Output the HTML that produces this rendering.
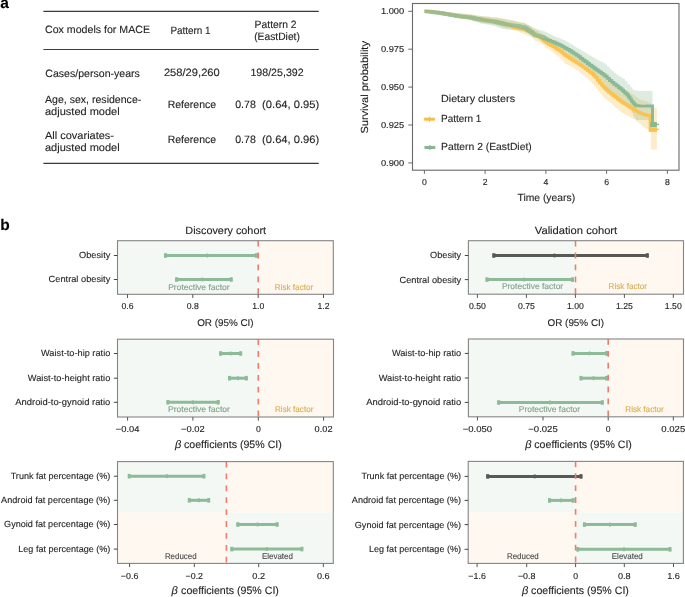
<!DOCTYPE html>
<html><head><meta charset="utf-8"><style>
html,body{margin:0;padding:0;background:#fff;}
svg{display:block;will-change:transform;}
text{font-family:"Liberation Sans", sans-serif;text-rendering:geometricPrecision;stroke:currentColor;stroke-width:0.12px;}
</style></head><body>
<svg width="685" height="597" viewBox="0 0 685 597">
<rect width="685" height="597" fill="#fff"/>
<text x="0.2" y="7.8" font-size="15.5" fill="#000" color="#000" text-anchor="start" font-weight="bold">a</text>
<text x="0.3" y="229.5" font-size="15.5" fill="#000" color="#000" text-anchor="start" font-weight="bold">b</text>
<line x1="43.4" y1="11.3" x2="318.8" y2="11.3" stroke="#3a3a3a" stroke-width="1.15"/>
<line x1="43.4" y1="49.5" x2="318.8" y2="49.5" stroke="#3a3a3a" stroke-width="1.15"/>
<line x1="43.4" y1="163.3" x2="318.8" y2="163.3" stroke="#3a3a3a" stroke-width="1.15"/>
<text x="45.0" y="33.0" font-size="10.6" fill="#262626" color="#262626" text-anchor="start" textLength="105.0" lengthAdjust="spacingAndGlyphs">Cox models for MACE</text>
<text x="170.4" y="33.6" font-size="10.6" fill="#262626" color="#262626" text-anchor="start" textLength="40.2" lengthAdjust="spacingAndGlyphs">Pattern 1</text>
<text x="254.6" y="27.7" font-size="10.6" fill="#262626" color="#262626" text-anchor="start" textLength="42.0" lengthAdjust="spacingAndGlyphs">Pattern 2</text>
<text x="254.2" y="39.7" font-size="10.6" fill="#262626" color="#262626" text-anchor="start" textLength="45.7" lengthAdjust="spacingAndGlyphs">(EastDiet)</text>
<text x="45.3" y="76.7" font-size="10.6" fill="#262626" color="#262626" text-anchor="start" textLength="94.6" lengthAdjust="spacingAndGlyphs">Cases/person-years</text>
<text x="163.9" y="76.4" font-size="10.6" fill="#262626" color="#262626" text-anchor="start" textLength="55.9" lengthAdjust="spacingAndGlyphs">258/29,260</text>
<text x="250.4" y="76.4" font-size="10.6" fill="#262626" color="#262626" text-anchor="start" textLength="53.3" lengthAdjust="spacingAndGlyphs">198/25,392</text>
<text x="45.0" y="102.9" font-size="10.6" fill="#262626" color="#262626" text-anchor="start" textLength="96.3" lengthAdjust="spacingAndGlyphs">Age, sex, residence-</text>
<text x="45.0" y="114.5" font-size="10.6" fill="#262626" color="#262626" text-anchor="start" textLength="74.7" lengthAdjust="spacingAndGlyphs">adjusted model</text>
<text x="45.0" y="139.3" font-size="10.6" fill="#262626" color="#262626" text-anchor="start" textLength="69.0" lengthAdjust="spacingAndGlyphs">All covariates-</text>
<text x="45.0" y="150.8" font-size="10.6" fill="#262626" color="#262626" text-anchor="start" textLength="74.7" lengthAdjust="spacingAndGlyphs">adjusted model</text>
<text x="167.7" y="107.9" font-size="10.6" fill="#262626" color="#262626" text-anchor="start" textLength="48.4" lengthAdjust="spacingAndGlyphs">Reference</text>
<text x="235.2" y="107.9" font-size="10.6" fill="#262626" color="#262626" text-anchor="start" textLength="20.6" lengthAdjust="spacingAndGlyphs">0.78</text>
<text x="167.7" y="143.0" font-size="10.6" fill="#262626" color="#262626" text-anchor="start" textLength="48.4" lengthAdjust="spacingAndGlyphs">Reference</text>
<text x="235.2" y="143.0" font-size="10.6" fill="#262626" color="#262626" text-anchor="start" textLength="20.6" lengthAdjust="spacingAndGlyphs">0.78</text>
<text x="262.1" y="107.9" font-size="10.6" fill="#262626" color="#262626" text-anchor="start" textLength="57.2" lengthAdjust="spacingAndGlyphs">(0.64, 0.95)</text>
<text x="262.1" y="143.0" font-size="10.6" fill="#262626" color="#262626" text-anchor="start" textLength="57.2" lengthAdjust="spacingAndGlyphs">(0.64, 0.96)</text>
<polygon points="424.5,10.1 426.4,10.1 426.4,10.1 426.4,10.3 428.4,10.3 428.4,10.3 428.4,10.5 430.3,10.5 430.3,10.5 430.3,10.7 432.2,10.7 432.2,10.7 432.2,10.8 434.2,10.8 434.2,10.8 434.2,11.0 436.1,11.0 436.1,11.0 436.1,11.2 438.1,11.2 438.1,11.2 438.1,11.4 440.0,11.4 440.0,11.4 440.0,11.6 442.0,11.6 442.0,11.6 442.0,11.8 444.0,11.8 444.0,11.8 444.0,12.0 446.0,12.0 446.0,12.0 446.0,12.2 448.0,12.2 448.0,12.2 448.0,12.4 450.0,12.4 450.0,12.4 450.0,12.6 452.0,12.6 452.0,12.6 452.0,12.8 454.0,12.8 454.0,12.8 454.0,12.9 456.0,12.9 456.0,12.9 456.0,13.1 458.0,13.1 458.0,13.1 458.0,13.3 460.0,13.3 460.0,13.3 460.0,13.5 462.0,13.5 462.0,13.5 462.0,13.7 464.0,13.7 464.0,13.7 464.0,13.9 466.0,13.9 466.0,13.9 466.0,14.1 468.0,14.1 468.0,14.1 468.0,14.3 470.0,14.3 470.0,14.3 470.0,14.5 471.9,14.5 471.9,14.5 471.9,14.8 473.9,14.8 473.9,14.8 473.9,15.1 475.9,15.1 475.9,15.1 475.9,15.4 477.8,15.4 477.8,15.4 477.8,15.7 479.8,15.7 479.8,15.7 479.8,16.0 481.7,16.0 481.7,16.0 481.7,16.2 483.6,16.2 483.6,16.2 483.6,16.4 485.6,16.4 485.6,16.4 485.6,16.6 487.5,16.6 487.5,16.6 487.5,16.8 489.5,16.8 489.5,16.8 489.5,17.0 491.4,17.0 491.4,17.0 491.4,17.2 493.4,17.2 493.4,17.2 493.4,17.4 495.6,17.4 495.6,17.4 495.6,17.6 497.8,17.6 497.8,17.6 497.8,17.9 500.0,17.9 500.0,17.9 500.0,18.3 502.5,18.3 502.5,18.3 502.5,18.8 505.0,18.8 505.0,18.8 505.0,19.3 507.2,19.3 507.2,19.3 507.2,19.8 509.5,19.8 509.5,19.8 509.5,20.2 511.7,20.2 511.7,20.2 511.7,20.6 513.9,20.6 513.9,20.6 513.9,21.0 516.2,21.0 516.2,21.0 516.2,21.5 518.4,21.5 518.4,21.5 518.4,21.9 520.6,21.9 520.6,21.9 520.6,22.4 522.8,22.4 522.8,22.4 522.8,22.8 525.0,22.8 525.0,22.8 525.0,23.7 527.3,23.7 527.3,23.7 527.3,25.0 529.5,25.0 529.5,25.0 529.5,26.3 531.8,26.3 531.8,26.3 531.8,27.6 533.4,27.6 533.4,27.6 533.4,28.6 535.0,28.6 535.0,28.6 535.0,29.8 537.2,29.8 537.2,29.8 537.2,31.1 539.5,31.1 539.5,31.1 539.5,32.4 541.7,32.4 541.7,32.4 541.7,33.6 543.4,33.6 543.4,33.6 543.4,34.9 545.0,34.9 545.0,34.9 545.0,35.9 546.7,35.9 546.7,35.9 546.7,36.6 548.4,36.6 548.4,36.6 548.4,37.5 550.6,37.5 550.6,37.5 550.6,38.5 552.9,38.5 552.9,38.5 552.9,39.5 555.1,39.5 555.1,39.5 555.1,40.6 557.3,40.6 557.3,40.6 557.3,41.8 559.6,41.8 559.6,41.8 559.6,42.9 561.8,42.9 561.8,42.9 561.8,44.0 563.4,44.0 563.4,44.0 563.4,45.0 565.0,45.0 565.0,45.0 565.0,46.2 567.2,46.2 567.2,46.2 567.2,47.5 569.5,47.5 569.5,47.5 569.5,48.8 571.7,48.8 571.7,48.8 571.7,50.2 573.9,50.2 573.9,50.2 573.9,51.8 576.2,51.8 576.2,51.8 576.2,53.2 578.4,53.2 578.4,53.2 578.4,54.8 580.6,54.8 580.6,54.8 580.6,56.5 582.8,56.5 582.8,56.5 582.8,58.2 585.0,58.2 585.0,58.2 585.0,59.8 587.3,59.8 587.3,59.8 587.3,61.5 589.5,61.5 589.5,61.5 589.5,63.2 591.8,63.2 591.8,63.2 591.8,64.8 593.9,64.8 593.9,64.8 593.9,66.2 595.9,66.2 595.9,66.2 595.9,67.8 598.0,67.8 598.0,67.8 598.0,69.1 599.8,69.1 599.8,69.1 599.8,70.3 601.5,70.3 601.5,70.3 601.5,71.5 603.2,71.5 603.2,71.5 603.2,72.7 605.0,72.7 605.0,72.7 605.0,74.3 607.2,74.3 607.2,74.3 607.2,76.4 609.5,76.4 609.5,76.4 609.5,78.5 611.7,78.5 611.7,78.5 611.7,80.4 613.9,80.4 613.9,80.4 613.9,82.2 616.2,82.2 616.2,82.2 616.2,83.9 618.4,83.9 618.4,83.9 618.4,85.6 620.6,85.6 620.6,85.6 620.6,87.3 622.8,87.3 622.8,87.3 622.8,89.0 625.0,89.0 625.0,89.0 625.0,90.4 627.1,90.4 627.1,90.4 627.1,91.6 629.2,91.6 629.2,91.6 629.2,92.7 631.3,92.7 631.3,92.7 631.3,93.9 633.4,93.9 633.4,93.9 633.4,95.3 635.6,95.3 635.6,95.3 635.6,97.0 637.9,97.0 637.9,97.0 637.9,98.7 640.1,98.7 640.1,98.7 640.1,99.8 642.1,99.8 642.1,99.8 642.1,100.2 644.1,100.2 644.1,100.2 644.1,100.8 646.1,100.8 646.1,100.8 646.1,101.2 648.1,101.2 648.1,101.2 648.1,102.8 650.8,102.8 650.8,102.8 650.8,107.7 650.8,107.7 650.8,107.7 652.8,107.7 652.8,107.7 652.8,107.7 654.9,107.7 654.9,107.7 654.9,107.7 656.9,107.7 656.9,149.6 654.9,149.6 654.9,149.6 654.9,149.6 652.8,149.6 652.8,149.6 652.8,149.6 650.8,149.6 650.8,149.6 650.8,149.6 650.8,128.9 650.8,128.9 648.5,128.9 648.5,128.9 648.5,128.9 646.3,128.9 646.3,128.1 646.3,128.1 644.4,128.1 644.4,126.7 644.4,126.7 642.5,126.7 642.5,125.2 642.5,125.2 640.6,125.2 640.6,123.6 640.6,123.6 638.8,123.6 638.8,122.1 638.8,122.1 636.9,122.1 636.9,120.7 636.9,120.7 635.0,120.7 635.0,119.3 635.0,119.3 632.5,119.3 632.5,117.8 632.5,117.8 630.0,117.8 630.0,116.4 630.0,116.4 627.5,116.4 627.5,114.9 627.5,114.9 625.0,114.9 625.0,113.8 625.0,113.8 623.4,113.8 623.4,112.9 623.4,112.9 621.8,112.9 621.8,111.6 621.8,111.6 619.6,111.6 619.6,109.8 619.6,109.8 617.3,109.8 617.3,108.0 617.3,108.0 615.1,108.0 615.1,106.2 615.1,106.2 613.4,106.2 613.4,104.4 613.4,104.4 611.7,104.4 611.7,102.7 611.7,102.7 609.5,102.7 609.5,101.0 609.5,101.0 607.2,101.0 607.2,99.3 607.2,99.3 605.0,99.3 605.0,97.4 605.0,97.4 603.2,97.4 603.2,95.3 603.2,95.3 601.5,95.3 601.5,93.2 601.5,93.2 599.8,93.2 599.8,91.1 599.8,91.1 598.0,91.1 598.0,88.8 598.0,88.8 595.9,88.8 595.9,86.2 595.9,86.2 593.9,86.2 593.9,83.8 593.9,83.8 591.8,83.8 591.8,81.5 591.8,81.5 589.5,81.5 589.5,79.5 589.5,79.5 587.3,79.5 587.3,77.5 587.3,77.5 585.0,77.5 585.0,75.6 585.0,75.6 582.8,75.6 582.8,73.8 582.8,73.8 580.6,73.8 580.6,71.9 580.6,71.9 578.4,71.9 578.4,70.2 578.4,70.2 576.2,70.2 576.2,68.8 576.2,68.8 573.9,68.8 573.9,67.2 573.9,67.2 571.7,67.2 571.7,66.0 571.7,66.0 569.5,66.0 569.5,65.0 569.5,65.0 567.2,65.0 567.2,64.1 567.2,64.1 565.0,64.1 565.0,62.6 565.0,62.6 563.4,62.6 563.4,60.5 563.4,60.5 561.8,60.5 561.8,58.6 561.8,58.6 559.6,58.6 559.6,56.8 559.6,56.8 557.3,56.8 557.3,54.9 557.3,54.9 555.1,54.9 555.1,53.2 555.1,53.2 552.9,53.2 552.9,51.5 552.9,51.5 550.6,51.5 550.6,49.8 550.6,49.8 548.4,49.8 548.4,48.5 548.4,48.5 546.7,48.5 546.7,47.5 546.7,47.5 545.0,47.5 545.0,46.1 545.0,46.1 543.4,46.1 543.4,44.4 543.4,44.4 541.7,44.4 541.7,43.0 541.7,43.0 539.5,43.0 539.5,42.1 539.5,42.1 537.2,42.1 537.2,41.2 537.2,41.2 535.0,41.2 535.0,40.0 535.0,40.0 533.4,40.0 533.4,38.3 533.4,38.3 531.8,38.3 531.8,37.0 531.8,37.0 529.5,37.0 529.5,36.0 529.5,36.0 527.3,36.0 527.3,35.1 527.3,35.1 525.0,35.1 525.0,34.1 525.0,34.1 522.8,34.1 522.8,33.0 522.8,33.0 520.6,33.0 520.6,31.9 520.6,31.9 518.4,31.9 518.4,31.1 518.4,31.1 516.2,31.1 516.2,30.4 516.2,30.4 513.9,30.4 513.9,29.7 513.9,29.7 511.7,29.7 511.7,29.2 511.7,29.2 509.5,29.2 509.5,28.8 509.5,28.8 507.2,28.8 507.2,28.3 507.2,28.3 505.0,28.3 505.0,27.8 505.0,27.8 502.5,27.8 502.5,27.3 502.5,27.3 500.0,27.3 500.0,26.6 500.0,26.6 497.8,26.6 497.8,25.8 497.8,25.8 495.6,25.8 495.6,25.0 495.6,25.0 493.4,25.0 493.4,24.5 493.4,24.5 491.4,24.5 491.4,24.2 491.4,24.2 489.5,24.2 489.5,23.9 489.5,23.9 487.5,23.9 487.5,23.6 487.5,23.6 485.6,23.6 485.6,23.3 485.6,23.3 483.6,23.3 483.6,23.0 483.6,23.0 481.7,23.0 481.7,22.6 481.7,22.6 479.8,22.6 479.8,22.1 479.8,22.1 477.8,22.1 477.8,21.6 477.8,21.6 475.9,21.6 475.9,21.1 475.9,21.1 473.9,21.1 473.9,20.6 473.9,20.6 471.9,20.6 471.9,20.1 471.9,20.1 470.0,20.1 470.0,19.7 470.0,19.7 468.0,19.7 468.0,19.4 468.0,19.4 466.0,19.4 466.0,19.0 466.0,19.0 464.0,19.0 464.0,18.7 464.0,18.7 462.0,18.7 462.0,18.4 462.0,18.4 460.0,18.4 460.0,18.0 460.0,18.0 458.0,18.0 458.0,17.7 458.0,17.7 456.0,17.7 456.0,17.4 456.0,17.4 454.0,17.4 454.0,17.0 454.0,17.0 452.0,17.0 452.0,16.7 452.0,16.7 450.0,16.7 450.0,16.3 450.0,16.3 448.0,16.3 448.0,16.0 448.0,16.0 446.0,16.0 446.0,15.7 446.0,15.7 444.0,15.7 444.0,15.3 444.0,15.3 442.0,15.3 442.0,15.0 442.0,15.0 440.0,15.0 440.0,14.7 440.0,14.7 438.1,14.7 438.1,14.4 438.1,14.4 436.1,14.4 436.1,14.1 436.1,14.1 434.2,14.1 434.2,13.8 434.2,13.8 432.2,13.8 432.2,13.5 432.2,13.5 430.3,13.5 430.3,13.2 430.3,13.2 428.4,13.2 428.4,12.9 428.4,12.9 426.4,12.9 426.4,12.6 426.4,12.6 424.5,12.6" fill="#f9c45a" fill-opacity="0.32"/>
<polygon points="424.5,10.1 426.4,10.1 426.4,10.1 426.4,10.3 428.4,10.3 428.4,10.3 428.4,10.5 430.3,10.5 430.3,10.5 430.3,10.7 432.2,10.7 432.2,10.7 432.2,10.8 434.2,10.8 434.2,10.8 434.2,11.0 436.1,11.0 436.1,11.0 436.1,11.2 438.1,11.2 438.1,11.2 438.1,11.4 440.0,11.4 440.0,11.4 440.0,11.6 442.0,11.6 442.0,11.6 442.0,11.8 444.0,11.8 444.0,11.8 444.0,12.0 446.0,12.0 446.0,12.0 446.0,12.2 448.0,12.2 448.0,12.2 448.0,12.4 450.0,12.4 450.0,12.4 450.0,12.6 452.0,12.6 452.0,12.6 452.0,12.8 454.0,12.8 454.0,12.8 454.0,12.9 456.0,12.9 456.0,12.9 456.0,13.1 458.0,13.1 458.0,13.1 458.0,13.3 460.0,13.3 460.0,13.3 460.0,13.5 462.0,13.5 462.0,13.5 462.0,13.7 464.0,13.7 464.0,13.7 464.0,13.9 466.0,13.9 466.0,13.9 466.0,14.1 468.0,14.1 468.0,14.1 468.0,14.3 470.0,14.3 470.0,14.3 470.0,14.5 471.9,14.5 471.9,14.5 471.9,14.8 473.9,14.8 473.9,14.8 473.9,15.1 475.9,15.1 475.9,15.1 475.9,15.4 477.8,15.4 477.8,15.4 477.8,15.7 479.8,15.7 479.8,15.7 479.8,16.0 481.7,16.0 481.7,16.0 481.7,16.2 483.6,16.2 483.6,16.2 483.6,16.4 485.6,16.4 485.6,16.4 485.6,16.6 487.5,16.6 487.5,16.6 487.5,16.8 489.5,16.8 489.5,16.8 489.5,17.0 491.4,17.0 491.4,17.0 491.4,17.2 493.4,17.2 493.4,17.2 493.4,17.4 495.6,17.4 495.6,17.4 495.6,17.6 497.8,17.6 497.8,17.6 497.8,17.9 500.0,17.9 500.0,17.9 500.0,18.3 502.5,18.3 502.5,18.3 502.5,18.8 505.0,18.8 505.0,18.8 505.0,19.3 507.2,19.3 507.2,19.3 507.2,19.8 509.5,19.8 509.5,19.8 509.5,20.2 511.7,20.2 511.7,20.2 511.7,20.6 513.9,20.6 513.9,20.6 513.9,21.0 516.2,21.0 516.2,21.0 516.2,21.5 518.4,21.5 518.4,21.5 518.4,21.9 520.6,21.9 520.6,21.9 520.6,22.4 522.8,22.4 522.8,22.4 522.8,22.8 525.0,22.8 525.0,22.8 525.0,23.7 527.3,23.7 527.3,23.7 527.3,25.0 529.5,25.0 529.5,25.0 529.5,26.3 531.8,26.3 531.8,26.3 531.8,27.4 533.4,27.4 533.4,27.4 533.4,28.1 535.0,28.1 535.0,28.1 535.0,28.8 537.2,28.8 537.2,28.8 537.2,29.5 539.5,29.5 539.5,29.5 539.5,30.2 541.7,30.2 541.7,30.2 541.7,30.8 543.4,30.8 543.4,30.8 543.4,31.2 545.0,31.2 545.0,31.2 545.0,31.9 546.7,31.9 546.7,31.9 546.7,32.8 548.4,32.8 548.4,32.8 548.4,33.7 550.6,33.7 550.6,33.7 550.6,34.8 552.9,34.8 552.9,34.8 552.9,35.9 555.1,35.9 555.1,35.9 555.1,36.9 557.3,36.9 557.3,36.9 557.3,37.8 559.6,37.8 559.6,37.8 559.6,38.7 561.8,38.7 561.8,38.7 561.8,39.5 563.4,39.5 563.4,39.5 563.4,40.0 565.0,40.0 565.0,40.0 565.0,40.9 567.2,40.9 567.2,40.9 567.2,42.3 569.5,42.3 569.5,42.3 569.5,43.7 571.7,43.7 571.7,43.7 571.7,45.1 573.9,45.1 573.9,45.1 573.9,46.5 576.2,46.5 576.2,46.5 576.2,47.8 578.4,47.8 578.4,47.8 578.4,49.1 580.6,49.1 580.6,49.1 580.6,50.5 582.8,50.5 582.8,50.5 582.8,51.8 585.0,51.8 585.0,51.8 585.0,53.1 587.3,53.1 587.3,53.1 587.3,54.5 589.5,54.5 589.5,54.5 589.5,55.8 591.8,55.8 591.8,55.8 591.8,57.1 593.9,57.1 593.9,57.1 593.9,58.2 595.9,58.2 595.9,58.2 595.9,59.4 598.0,59.4 598.0,59.4 598.0,60.4 599.8,60.4 599.8,60.4 599.8,61.3 601.5,61.3 601.5,61.3 601.5,62.1 603.2,62.1 603.2,62.1 603.2,63.0 605.0,63.0 605.0,63.0 605.0,64.5 607.2,64.5 607.2,64.5 607.2,66.7 609.5,66.7 609.5,66.7 609.5,68.9 611.7,68.9 611.7,68.9 611.7,70.9 613.9,70.9 613.9,70.9 613.9,72.8 616.2,72.8 616.2,72.8 616.2,74.6 618.4,74.6 618.4,74.6 618.4,76.2 620.6,76.2 620.6,76.2 620.6,77.5 622.8,77.5 622.8,77.5 622.8,78.8 625.0,78.8 625.0,78.8 625.0,81.1 627.5,81.1 627.5,81.1 627.5,84.2 630.0,84.2 630.0,84.2 630.0,86.8 631.7,86.8 631.7,86.8 631.7,88.8 633.4,88.8 633.4,88.8 633.4,90.3 636.1,90.3 636.1,90.3 636.1,90.8 638.1,90.8 638.1,90.8 638.1,90.9 640.2,90.9 640.2,90.9 640.2,90.9 642.2,90.9 642.2,90.9 642.2,90.9 644.3,90.9 644.3,90.9 644.3,91.0 646.4,91.0 646.4,91.0 646.4,91.0 648.4,91.0 648.4,91.0 648.4,91.0 650.5,91.0 650.5,91.0 650.5,91.1 652.5,91.1 652.5,120.0 650.4,120.0 650.4,120.0 650.4,120.0 648.4,120.0 648.4,120.0 648.4,120.0 646.3,120.0 646.3,120.0 646.3,120.0 644.2,120.0 644.2,120.0 644.2,120.0 642.2,120.0 642.2,120.0 642.2,120.0 640.1,120.0 640.1,120.0 640.1,120.0 638.1,120.0 638.1,120.0 638.1,120.0 636.0,120.0 636.0,118.8 636.0,118.8 634.5,118.8 634.5,116.2 634.5,116.2 633.0,116.2 633.0,113.1 633.0,113.1 631.5,113.1 631.5,109.4 631.5,109.4 630.0,109.4 630.0,106.9 630.0,106.9 627.5,106.9 627.5,105.6 627.5,105.6 625.0,105.6 625.0,104.5 625.0,104.5 623.4,104.5 623.4,103.5 623.4,103.5 621.8,103.5 621.8,102.2 621.8,102.2 619.6,102.2 619.6,100.5 619.6,100.5 617.3,100.5 617.3,98.8 617.3,98.8 615.1,98.8 615.1,97.0 615.1,97.0 612.9,97.0 612.9,95.2 612.9,95.2 610.6,95.2 610.6,93.5 610.6,93.5 608.4,93.5 608.4,91.8 608.4,91.8 606.7,91.8 606.7,90.3 606.7,90.3 605.0,90.3 605.0,88.6 605.0,88.6 603.4,88.6 603.4,86.9 603.4,86.9 601.7,86.9 601.7,84.6 601.7,84.6 599.5,84.6 599.5,81.8 599.5,81.8 597.2,81.8 597.2,78.9 597.2,78.9 595.0,78.9 595.0,76.8 595.0,76.8 593.4,76.8 593.4,75.2 593.4,75.2 591.8,75.2 591.8,73.6 591.8,73.6 589.5,73.6 589.5,71.9 589.5,71.9 587.3,71.9 587.3,70.2 587.3,70.2 585.0,70.2 585.0,68.6 585.0,68.6 582.8,68.6 582.8,67.1 582.8,67.1 580.6,67.1 580.6,65.6 580.6,65.6 578.4,65.6 578.4,64.2 578.4,64.2 576.2,64.2 576.2,62.7 576.2,62.7 573.9,62.7 573.9,61.2 573.9,61.2 571.7,61.2 571.7,59.8 571.7,59.8 569.5,59.8 569.5,58.5 569.5,58.5 567.2,58.5 567.2,57.1 567.2,57.1 565.0,57.1 565.0,55.6 565.0,55.6 563.4,55.6 563.4,54.1 563.4,54.1 561.8,54.1 561.8,52.6 561.8,52.6 559.6,52.6 559.6,51.1 559.6,51.1 557.3,51.1 557.3,49.7 557.3,49.7 555.1,49.7 555.1,48.3 555.1,48.3 552.9,48.3 552.9,47.0 552.9,47.0 550.6,47.0 550.6,45.7 550.6,45.7 548.4,45.7 548.4,44.5 548.4,44.5 546.7,44.5 546.7,43.5 546.7,43.5 545.0,43.5 545.0,42.2 545.0,42.2 543.4,42.2 543.4,40.8 543.4,40.8 541.7,40.8 541.7,39.3 541.7,39.3 539.5,39.3 539.5,38.0 539.5,38.0 537.2,38.0 537.2,36.7 537.2,36.7 535.0,36.7 535.0,35.5 535.0,35.5 533.4,35.5 533.4,34.7 533.4,34.7 531.8,34.7 531.8,33.8 531.8,33.8 529.5,33.8 529.5,33.1 529.5,33.1 527.3,33.1 527.3,32.4 527.3,32.4 525.0,32.4 525.0,31.8 525.0,31.8 522.8,31.8 522.8,31.2 522.8,31.2 520.6,31.2 520.6,30.8 520.6,30.8 518.4,30.8 518.4,30.4 518.4,30.4 516.2,30.4 516.2,30.1 516.2,30.1 513.9,30.1 513.9,29.9 513.9,29.9 511.7,29.9 511.7,29.7 511.7,29.7 509.5,29.7 509.5,29.6 509.5,29.6 507.2,29.6 507.2,29.4 507.2,29.4 505.0,29.4 505.0,28.9 505.0,28.9 502.5,28.9 502.5,28.2 502.5,28.2 500.0,28.2 500.0,27.4 500.0,27.4 497.8,27.4 497.8,26.6 497.8,26.6 495.6,26.6 495.6,25.9 495.6,25.9 493.4,25.9 493.4,25.4 493.4,25.4 491.4,25.4 491.4,25.1 491.4,25.1 489.5,25.1 489.5,24.8 489.5,24.8 487.5,24.8 487.5,24.4 487.5,24.4 485.6,24.4 485.6,24.1 485.6,24.1 483.6,24.1 483.6,23.8 483.6,23.8 481.7,23.8 481.7,23.4 481.7,23.4 479.8,23.4 479.8,22.8 479.8,22.8 477.8,22.8 477.8,22.2 477.8,22.2 475.9,22.2 475.9,21.7 475.9,21.7 473.9,21.7 473.9,21.1 473.9,21.1 471.9,21.1 471.9,20.5 471.9,20.5 470.0,20.5 470.0,20.0 470.0,20.0 468.0,20.0 468.0,19.6 468.0,19.6 466.0,19.6 466.0,19.2 466.0,19.2 464.0,19.2 464.0,18.8 464.0,18.8 462.0,18.8 462.0,18.4 462.0,18.4 460.0,18.4 460.0,18.0 460.0,18.0 458.0,18.0 458.0,17.6 458.0,17.6 456.0,17.6 456.0,17.2 456.0,17.2 454.0,17.2 454.0,16.9 454.0,16.9 452.0,16.9 452.0,16.5 452.0,16.5 450.0,16.5 450.0,16.1 450.0,16.1 448.0,16.1 448.0,15.7 448.0,15.7 446.0,15.7 446.0,15.3 446.0,15.3 444.0,15.3 444.0,14.9 444.0,14.9 442.0,14.9 442.0,14.5 442.0,14.5 440.0,14.5 440.0,14.2 440.0,14.2 438.1,14.2 438.1,13.9 438.1,13.9 436.1,13.9 436.1,13.7 436.1,13.7 434.2,13.7 434.2,13.5 434.2,13.5 432.2,13.5 432.2,13.2 432.2,13.2 430.3,13.2 430.3,13.0 430.3,13.0 428.4,13.0 428.4,12.8 428.4,12.8 426.4,12.8 426.4,12.5 426.4,12.5 424.5,12.5" fill="#86b892" fill-opacity="0.28"/>
<polyline points="424.5,11.3 426.4,11.3 426.4,11.3 426.4,11.5 428.4,11.5 428.4,11.5 428.4,11.6 430.3,11.6 430.3,11.6 430.3,11.8 432.2,11.8 432.2,11.8 432.2,12.0 434.2,12.0 434.2,12.0 434.2,12.2 436.1,12.2 436.1,12.2 436.1,12.3 438.1,12.3 438.1,12.3 438.1,12.5 440.0,12.5 440.0,12.5 440.0,12.8 442.0,12.8 442.0,12.8 442.0,13.1 444.0,13.1 444.0,13.1 444.0,13.5 446.0,13.5 446.0,13.5 446.0,13.9 448.0,13.9 448.0,13.9 448.0,14.2 450.0,14.2 450.0,14.2 450.0,14.6 452.0,14.6 452.0,14.6 452.0,14.9 454.0,14.9 454.0,14.9 454.0,15.3 456.0,15.3 456.0,15.3 456.0,15.7 458.0,15.7 458.0,15.7 458.0,16.0 460.0,16.0 460.0,16.0 460.0,16.4 462.0,16.4 462.0,16.4 462.0,16.7 464.0,16.7 464.0,16.7 464.0,17.0 466.0,17.0 466.0,17.0 466.0,17.3 468.0,17.3 468.0,17.3 468.0,17.6 470.0,17.6 470.0,17.6 470.0,17.9 471.9,17.9 471.9,17.9 471.9,18.1 473.9,18.1 473.9,18.1 473.9,18.4 475.9,18.4 475.9,18.4 475.9,18.6 477.8,18.6 477.8,18.6 477.8,18.9 479.8,18.9 479.8,18.9 479.8,19.1 481.7,19.1 481.7,19.1 481.7,19.3 483.6,19.3 483.6,19.3 483.6,19.6 485.6,19.6 485.6,19.6 485.6,19.9 487.5,19.9 487.5,19.9 487.5,20.2 489.5,20.2 489.5,20.2 489.5,20.6 491.4,20.6 491.4,20.6 491.4,20.9 493.4,20.9 493.4,20.9 493.4,21.2 495.3,21.2 495.3,21.2 495.3,21.6 497.3,21.6 497.3,21.6 497.3,22.0 499.2,22.0 499.2,22.0 499.2,22.5 501.1,22.5 501.1,22.5 501.1,22.9 503.1,22.9 503.1,22.9 503.1,23.3 505.0,23.3 505.0,23.3 505.0,23.9 507.0,23.9 507.0,23.9 507.0,24.7 509.0,24.7 509.0,24.7 509.0,25.5 511.0,25.5 511.0,25.5 511.0,26.3 513.0,26.3 513.0,26.3 513.0,27.1 515.0,27.1 515.0,27.1 515.0,27.7 517.0,27.7 517.0,27.7 517.0,28.1 519.0,28.1 519.0,28.1 519.0,28.5 521.0,28.5 521.0,28.5 521.0,28.9 523.0,28.9 523.0,28.9 523.0,29.3 525.0,29.3 525.0,29.3 525.0,29.9 527.3,29.9 527.3,29.9 527.3,30.8 529.5,30.8 529.5,30.8 529.5,31.6 531.8,31.6 531.8,31.6 531.8,32.5 533.4,32.5 533.4,32.5 533.4,33.5 535.0,33.5 535.0,33.5 535.0,34.8 537.2,34.8 537.2,34.8 537.2,36.2 539.5,36.2 539.5,36.2 539.5,37.8 541.7,37.8 541.7,37.8 541.7,39.3 543.4,39.3 543.4,39.3 543.4,40.8 545.0,40.8 545.0,40.8 545.0,42.1 546.7,42.1 546.7,42.1 546.7,43.0 548.4,43.0 548.4,43.0 548.4,44.2 550.6,44.2 550.6,44.2 550.6,45.5 552.9,45.5 552.9,45.5 552.9,46.8 555.1,46.8 555.1,46.8 555.1,48.2 557.3,48.2 557.3,48.2 557.3,49.6 559.6,49.6 559.6,49.6 559.6,51.1 561.8,51.1 561.8,51.1 561.8,52.6 563.4,52.6 563.4,52.6 563.4,54.1 565.0,54.1 565.0,54.1 565.0,55.6 567.2,55.6 567.2,55.6 567.2,57.0 569.5,57.0 569.5,57.0 569.5,58.3 571.7,58.3 571.7,58.3 571.7,59.7 573.9,59.7 573.9,59.7 573.9,61.2 576.2,61.2 576.2,61.2 576.2,62.7 578.4,62.7 578.4,62.7 578.4,64.1 580.6,64.1 580.6,64.1 580.6,65.6 582.8,65.6 582.8,65.6 582.8,67.1 585.0,67.1 585.0,67.1 585.0,68.7 587.3,68.7 587.3,68.7 587.3,70.4 589.5,70.4 589.5,70.4 589.5,72.1 591.8,72.1 591.8,72.1 591.8,73.8 593.4,73.8 593.4,73.8 593.4,75.2 595.0,75.2 595.0,75.2 595.0,77.4 597.2,77.4 597.2,77.4 597.2,80.2 599.5,80.2 599.5,80.2 599.5,83.1 601.7,83.1 601.7,83.1 601.7,85.4 603.4,85.4 603.4,85.4 603.4,87.1 605.0,87.1 605.0,87.1 605.0,88.8 606.7,88.8 606.7,88.8 606.7,90.3 608.4,90.3 608.4,90.3 608.4,92.0 610.6,92.0 610.6,92.0 610.6,93.8 612.9,93.8 612.9,93.8 612.9,95.5 615.1,95.5 615.1,95.5 615.1,97.3 617.3,97.3 617.3,97.3 617.3,99.1 619.6,99.1 619.6,99.1 619.6,100.9 621.8,100.9 621.8,100.9 621.8,102.3 623.4,102.3 623.4,102.3 623.4,103.2 625.0,103.2 625.0,103.2 625.0,104.4 627.1,104.4 627.1,104.4 627.1,105.7 629.2,105.7 629.2,105.7 629.2,107.1 631.3,107.1 631.3,107.1 631.3,108.4 633.4,108.4 633.4,108.4 633.4,109.8 635.6,109.8 635.6,109.8 635.6,111.1 637.9,111.1 637.9,111.1 637.9,112.4 640.1,112.4 640.1,112.4 640.1,113.4 642.3,113.4 642.3,113.4 642.3,114.1 644.6,114.1 644.6,114.1 644.6,114.8 646.8,114.8 646.8,114.8 646.8,115.3 648.5,115.3 648.5,115.3 648.5,115.6 650.1,115.6 650.1,115.6 650.1,129.6 650.1,129.6 650.1,129.6 652.0,129.6" fill="none" stroke="#fac350" stroke-width="2.9" stroke-linejoin="miter"/>
<polyline points="424.5,11.3 426.4,11.3 426.4,11.3 426.4,11.5 428.4,11.5 428.4,11.5 428.4,11.7 430.3,11.7 430.3,11.7 430.3,11.9 432.2,11.9 432.2,11.9 432.2,12.2 434.2,12.2 434.2,12.2 434.2,12.4 436.1,12.4 436.1,12.4 436.1,12.6 438.1,12.6 438.1,12.6 438.1,12.8 440.0,12.8 440.0,12.8 440.0,13.1 441.9,13.1 441.9,13.1 441.9,13.4 443.9,13.4 443.9,13.4 443.9,13.8 445.8,13.8 445.8,13.8 445.8,14.1 447.8,14.1 447.8,14.1 447.8,14.4 449.7,14.4 449.7,14.4 449.7,14.8 451.6,14.8 451.6,14.8 451.6,15.1 453.6,15.1 453.6,15.1 453.6,15.5 455.5,15.5 455.5,15.5 455.5,15.8 457.5,15.8 457.5,15.8 457.5,16.1 459.4,16.1 459.4,16.1 459.4,16.4 461.5,16.4 461.5,16.4 461.5,16.6 463.6,16.6 463.6,16.6 463.6,16.8 465.8,16.8 465.8,16.8 465.8,17.0 467.9,17.0 467.9,17.0 467.9,17.2 470.0,17.2 470.0,17.2 470.0,17.5 471.9,17.5 471.9,17.5 471.9,17.9 473.9,17.9 473.9,17.9 473.9,18.4 475.9,18.4 475.9,18.4 475.9,18.8 477.8,18.8 477.8,18.8 477.8,19.2 479.8,19.2 479.8,19.2 479.8,19.7 481.7,19.7 481.7,19.7 481.7,20.0 483.6,20.0 483.6,20.0 483.6,20.3 485.6,20.3 485.6,20.3 485.6,20.5 487.5,20.5 487.5,20.5 487.5,20.8 489.5,20.8 489.5,20.8 489.5,21.0 491.4,21.0 491.4,21.0 491.4,21.3 493.4,21.3 493.4,21.3 493.4,21.6 495.6,21.6 495.6,21.6 495.6,22.1 497.8,22.1 497.8,22.1 497.8,22.6 500.0,22.6 500.0,22.6 500.0,23.2 502.5,23.2 502.5,23.2 502.5,23.9 505.0,23.9 505.0,23.9 505.0,24.4 507.2,24.4 507.2,24.4 507.2,24.6 509.5,24.6 509.5,24.6 509.5,25.0 511.7,25.0 511.7,25.0 511.7,25.3 513.9,25.3 513.9,25.3 513.9,25.6 516.2,25.6 516.2,25.6 516.2,25.9 518.4,25.9 518.4,25.9 518.4,26.3 520.6,26.3 520.6,26.3 520.6,26.8 522.8,26.8 522.8,26.8 522.8,27.3 525.0,27.3 525.0,27.3 525.0,28.1 526.7,28.1 526.7,28.1 526.7,29.4 528.4,29.4 528.4,29.4 528.4,30.6 530.1,30.6 530.1,30.6 530.1,31.9 531.8,31.9 531.8,31.9 531.8,33.1 533.4,33.1 533.4,33.1 533.4,34.4 535.0,34.4 535.0,34.4 535.0,35.3 537.2,35.3 537.2,35.3 537.2,35.9 539.5,35.9 539.5,35.9 539.5,36.5 541.7,36.5 541.7,36.5 541.7,37.2 543.4,37.2 543.4,37.2 543.4,38.1 545.0,38.1 545.0,38.1 545.0,39.0" fill="none" stroke="#8ab996" stroke-width="3.7" stroke-linejoin="miter" stroke-opacity="0.8"/>
<polyline points="545.0,38.1 545.0,38.1 545.0,39.0 546.7,39.0 546.7,39.0 546.7,39.6 548.4,39.6 548.4,39.6 548.4,40.5 550.6,40.5 550.6,40.5 550.6,41.4 552.9,41.4 552.9,41.4 552.9,42.3 555.1,42.3 555.1,42.3 555.1,43.3 557.3,43.3 557.3,43.3 557.3,44.3 559.6,44.3 559.6,44.3 559.6,45.3 561.8,45.3 561.8,45.3 561.8,46.2 563.4,46.2 563.4,46.2 563.4,47.1 565.0,47.1 565.0,47.1 565.0,48.2 567.2,48.2 567.2,48.2 567.2,49.5 569.5,49.5 569.5,49.5 569.5,50.8 571.7,50.8 571.7,50.8 571.7,52.2 573.9,52.2 573.9,52.2 573.9,53.8 576.2,53.8 576.2,53.8 576.2,55.2 578.4,55.2 578.4,55.2 578.4,56.8 580.6,56.8 580.6,56.8 580.6,58.5 582.8,58.5 582.8,58.5 582.8,60.2 585.0,60.2 585.0,60.2 585.0,61.8 587.3,61.8 587.3,61.8 587.3,63.5 589.5,63.5 589.5,63.5 589.5,65.2 591.8,65.2 591.8,65.2 591.8,66.8 593.9,66.8 593.9,66.8 593.9,68.2 595.9,68.2 595.9,68.2 595.9,69.8 598.0,69.8 598.0,69.8 598.0,71.1 599.8,71.1 599.8,71.1 599.8,72.3 601.5,72.3 601.5,72.3 601.5,73.5 603.2,73.5 603.2,73.5 603.2,74.7 605.0,74.7 605.0,74.7 605.0,76.3 607.2,76.3 607.2,76.3 607.2,78.4 609.5,78.4 609.5,78.4 609.5,80.5 611.7,80.5 611.7,80.5 611.7,82.4 613.9,82.4 613.9,82.4 613.9,84.2 616.2,84.2 616.2,84.2 616.2,85.9 618.4,85.9 618.4,85.9 618.4,87.5 620.2,87.5 620.2,87.5 620.2,88.8 622.0,88.8 622.0,88.8 622.0,90.2 623.5,90.2 623.5,90.2 623.5,91.6 625.0,91.6 625.0,91.6 625.0,93.2 627.0,93.2 627.0,93.2 627.0,95.0 628.5,95.0 628.5,95.0 628.5,97.0 630.0,97.0 630.0,97.0 630.0,99.1 631.5,99.1 631.5,99.1 631.5,101.4 633.0,101.4 633.0,101.4 633.0,103.2 634.5,103.2 634.5,103.2 634.5,104.8 636.0,104.8 636.0,104.8 636.0,105.7 638.5,105.7 638.5,105.7 638.5,105.9 641.0,105.9 641.0,105.9 641.0,106.1 642.9,106.1 642.9,106.1 642.9,106.1 644.8,106.1 644.8,106.1 644.8,106.1 646.8,106.1 646.8,106.1 646.8,106.0 648.7,106.0 648.7,106.0 648.7,106.0 650.6,106.0 650.6,106.0 650.6,106.0 652.5,106.0 652.5,106.0 652.5,123.5 652.5,123.5 652.5,123.5 653.0,123.5" fill="none" stroke="#8ab996" stroke-width="2.9" stroke-linejoin="miter"/>
<rect x="648.9" y="127.3" width="8.3" height="4.6" fill="#fac350"/>
<line x1="648.9" y1="129.3" x2="659.1" y2="129.3" stroke="#fac350" stroke-width="1.3"/>
<rect x="650.4" y="122.0" width="6.5" height="5.0" fill="#86b894"/>
<line x1="650.4" y1="124.4" x2="659.1" y2="124.4" stroke="#86b894" stroke-width="1.3"/>
<rect x="412.5" y="3.5" width="266.5" height="166.7" fill="none" stroke="#686868" stroke-width="1.1"/>
<line x1="408.3" y1="11.3" x2="412.5" y2="11.3" stroke="#686868" stroke-width="1"/>
<text x="404.2" y="14.2" font-size="8.7" fill="#262626" color="#262626" text-anchor="end" textLength="23.3" lengthAdjust="spacingAndGlyphs">1.000</text>
<line x1="408.3" y1="49.2" x2="412.5" y2="49.2" stroke="#686868" stroke-width="1"/>
<text x="404.2" y="52.1" font-size="8.7" fill="#262626" color="#262626" text-anchor="end" textLength="23.3" lengthAdjust="spacingAndGlyphs">0.975</text>
<line x1="408.3" y1="87.1" x2="412.5" y2="87.1" stroke="#686868" stroke-width="1"/>
<text x="404.2" y="90.0" font-size="8.7" fill="#262626" color="#262626" text-anchor="end" textLength="23.3" lengthAdjust="spacingAndGlyphs">0.950</text>
<line x1="408.3" y1="125.0" x2="412.5" y2="125.0" stroke="#686868" stroke-width="1"/>
<text x="404.2" y="127.9" font-size="8.7" fill="#262626" color="#262626" text-anchor="end" textLength="23.3" lengthAdjust="spacingAndGlyphs">0.925</text>
<line x1="408.3" y1="162.9" x2="412.5" y2="162.9" stroke="#686868" stroke-width="1"/>
<text x="404.2" y="165.8" font-size="8.7" fill="#262626" color="#262626" text-anchor="end" textLength="23.3" lengthAdjust="spacingAndGlyphs">0.900</text>
<line x1="424.4" y1="170.2" x2="424.4" y2="173.8" stroke="#686868" stroke-width="1"/>
<text x="424.4" y="184.9" font-size="8.7" fill="#262626" color="#262626" text-anchor="middle">0</text>
<line x1="485.1" y1="170.2" x2="485.1" y2="173.8" stroke="#686868" stroke-width="1"/>
<text x="485.1" y="184.9" font-size="8.7" fill="#262626" color="#262626" text-anchor="middle">2</text>
<line x1="545.9" y1="170.2" x2="545.9" y2="173.8" stroke="#686868" stroke-width="1"/>
<text x="545.9" y="184.9" font-size="8.7" fill="#262626" color="#262626" text-anchor="middle">4</text>
<line x1="606.6" y1="170.2" x2="606.6" y2="173.8" stroke="#686868" stroke-width="1"/>
<text x="606.6" y="184.9" font-size="8.7" fill="#262626" color="#262626" text-anchor="middle">6</text>
<line x1="667.4" y1="170.2" x2="667.4" y2="173.8" stroke="#686868" stroke-width="1"/>
<text x="667.4" y="184.9" font-size="8.7" fill="#262626" color="#262626" text-anchor="middle">8</text>
<text x="546.3" y="200.9" font-size="10.3" fill="#262626" color="#262626" text-anchor="middle" textLength="57.7" lengthAdjust="spacingAndGlyphs">Time (years)</text>
<text transform="translate(368.3,87.3) rotate(-90)" font-size="10.3" fill="#262626" text-anchor="middle" textLength="92.5" lengthAdjust="spacingAndGlyphs">Survival probability</text>
<text x="441.0" y="102.1" font-size="10.3" fill="#262626" color="#262626" text-anchor="start" textLength="74.0" lengthAdjust="spacingAndGlyphs">Dietary clusters</text>
<text x="441.0" y="121.6" font-size="10.3" fill="#262626" color="#262626" text-anchor="start" textLength="40.4" lengthAdjust="spacingAndGlyphs">Pattern 1</text>
<text x="441.0" y="149.6" font-size="10.3" fill="#262626" color="#262626" text-anchor="start" textLength="90.7" lengthAdjust="spacingAndGlyphs">Pattern 2 (EastDiet)</text>
<line x1="424.1" y1="119.2" x2="434.9" y2="119.2" stroke="#f8bd45" stroke-width="3"/>
<line x1="429.5" y1="116.6" x2="429.5" y2="121.8" stroke="#f8bd45" stroke-width="1.2"/>
<line x1="424.5" y1="147.5" x2="435.3" y2="147.5" stroke="#88b693" stroke-width="3"/>
<line x1="429.9" y1="144.9" x2="429.9" y2="150.1" stroke="#88b693" stroke-width="1.2"/>
<rect x="117.5" y="240.7" width="140.7" height="53.6" fill="#f3f8f4"/>
<rect x="258.2" y="240.7" width="75.1" height="53.6" fill="#fef8f0"/>
<line x1="164.3" y1="255.5" x2="257.5" y2="255.5" stroke="#8dbb98" stroke-width="3.0"/>
<rect x="164.0" y="253.2" width="3.0" height="4.6" fill="#8dbb98"/>
<rect x="254.8" y="253.2" width="3.0" height="4.6" fill="#8dbb98"/>
<rect x="206.2" y="253.6" width="2.0" height="3.8" fill="#8dbb98"/>
<line x1="175.4" y1="279.5" x2="232.4" y2="279.5" stroke="#8dbb98" stroke-width="3.0"/>
<rect x="175.1" y="277.2" width="3.0" height="4.6" fill="#8dbb98"/>
<rect x="229.7" y="277.2" width="3.0" height="4.6" fill="#8dbb98"/>
<rect x="201.4" y="277.6" width="2.0" height="3.8" fill="#8dbb98"/>
<text x="168.2" y="289.6" font-size="8.4" fill="#83a18b" color="#83a18b" text-anchor="start" textLength="61.5" lengthAdjust="spacingAndGlyphs">Protective factor</text>
<text x="274.8" y="289.5" font-size="8.4" fill="#d9ae4f" color="#d9ae4f" text-anchor="start" textLength="38.4" lengthAdjust="spacingAndGlyphs">Risk factor</text>
<line x1="258.2" y1="240.7" x2="258.2" y2="294.3" stroke="#f47a6c" stroke-width="1.6" stroke-dasharray="5.8 6.1"/>
<rect x="117.5" y="240.7" width="215.8" height="53.6" fill="none" stroke="#858585" stroke-width="1.1"/>
<line x1="113.9" y1="255.5" x2="117.5" y2="255.5" stroke="#444" stroke-width="1"/>
<text x="110.3" y="258.4" font-size="9.0" fill="#262626" color="#262626" text-anchor="end" textLength="31.2" lengthAdjust="spacingAndGlyphs">Obesity</text>
<line x1="113.9" y1="279.5" x2="117.5" y2="279.5" stroke="#444" stroke-width="1"/>
<text x="110.3" y="282.4" font-size="9.0" fill="#262626" color="#262626" text-anchor="end" textLength="61.7" lengthAdjust="spacingAndGlyphs">Central obesity</text>
<line x1="127.5" y1="294.3" x2="127.5" y2="298.0" stroke="#555" stroke-width="1"/>
<text x="127.5" y="309.4" font-size="8.7" fill="#262626" color="#262626" text-anchor="middle">0.6</text>
<line x1="192.8" y1="294.3" x2="192.8" y2="298.0" stroke="#555" stroke-width="1"/>
<text x="192.8" y="309.4" font-size="8.7" fill="#262626" color="#262626" text-anchor="middle">0.8</text>
<line x1="258.2" y1="294.3" x2="258.2" y2="298.0" stroke="#555" stroke-width="1"/>
<text x="258.2" y="309.4" font-size="8.7" fill="#262626" color="#262626" text-anchor="middle">1.0</text>
<line x1="323.5" y1="294.3" x2="323.5" y2="298.0" stroke="#555" stroke-width="1"/>
<text x="323.5" y="309.4" font-size="8.7" fill="#262626" color="#262626" text-anchor="middle">1.2</text>
<text x="225.4" y="325.7" font-size="9.8" fill="#262626" color="#262626" text-anchor="middle" textLength="56.5" lengthAdjust="spacingAndGlyphs">OR (95% CI)</text>
<text x="225.7" y="233.7" font-size="10.6" fill="#262626" color="#262626" text-anchor="middle" textLength="80.7" lengthAdjust="spacingAndGlyphs">Discovery cohort</text>
<rect x="117.5" y="339.2" width="140.8" height="77.8" fill="#f3f8f4"/>
<rect x="258.3" y="339.2" width="75.2" height="77.8" fill="#fef8f0"/>
<line x1="219.4" y1="353.5" x2="241.9" y2="353.5" stroke="#8dbb98" stroke-width="3.0"/>
<rect x="219.1" y="351.2" width="3.0" height="4.6" fill="#8dbb98"/>
<rect x="239.2" y="351.2" width="3.0" height="4.6" fill="#8dbb98"/>
<rect x="229.6" y="351.6" width="2.0" height="3.8" fill="#8dbb98"/>
<line x1="228.3" y1="378.2" x2="247.5" y2="378.2" stroke="#8dbb98" stroke-width="3.0"/>
<rect x="228.0" y="375.9" width="3.0" height="4.6" fill="#8dbb98"/>
<rect x="244.8" y="375.9" width="3.0" height="4.6" fill="#8dbb98"/>
<rect x="236.9" y="376.3" width="2.0" height="3.8" fill="#8dbb98"/>
<line x1="166.7" y1="402.3" x2="219.4" y2="402.3" stroke="#8dbb98" stroke-width="3.0"/>
<rect x="166.4" y="400.0" width="3.0" height="4.6" fill="#8dbb98"/>
<rect x="216.7" y="400.0" width="3.0" height="4.6" fill="#8dbb98"/>
<rect x="192.0" y="400.4" width="2.0" height="3.8" fill="#8dbb98"/>
<text x="168.0" y="412.3" font-size="8.4" fill="#83a18b" color="#83a18b" text-anchor="start" textLength="61.9" lengthAdjust="spacingAndGlyphs">Protective factor</text>
<text x="275.0" y="412.1" font-size="8.4" fill="#d9ae4f" color="#d9ae4f" text-anchor="start" textLength="38.4" lengthAdjust="spacingAndGlyphs">Risk factor</text>
<line x1="258.3" y1="339.2" x2="258.3" y2="417.0" stroke="#f47a6c" stroke-width="1.6" stroke-dasharray="5.8 6.1"/>
<rect x="117.5" y="339.2" width="216.0" height="77.8" fill="none" stroke="#858585" stroke-width="1.1"/>
<line x1="113.9" y1="353.5" x2="117.5" y2="353.5" stroke="#444" stroke-width="1"/>
<text x="110.3" y="356.4" font-size="9.0" fill="#262626" color="#262626" text-anchor="end" textLength="69.3" lengthAdjust="spacingAndGlyphs">Waist-to-hip ratio</text>
<line x1="113.9" y1="378.2" x2="117.5" y2="378.2" stroke="#444" stroke-width="1"/>
<text x="110.3" y="381.1" font-size="9.0" fill="#262626" color="#262626" text-anchor="end" textLength="82.5" lengthAdjust="spacingAndGlyphs">Waist-to-height ratio</text>
<line x1="113.9" y1="402.3" x2="117.5" y2="402.3" stroke="#444" stroke-width="1"/>
<text x="110.3" y="405.2" font-size="9.0" fill="#262626" color="#262626" text-anchor="end" textLength="95.0" lengthAdjust="spacingAndGlyphs">Android-to-gynoid ratio</text>
<line x1="127.6" y1="417.0" x2="127.6" y2="420.7" stroke="#555" stroke-width="1"/>
<text x="127.6" y="432.1" font-size="8.7" fill="#262626" color="#262626" text-anchor="middle" textLength="23.7" lengthAdjust="spacingAndGlyphs">−0.04</text>
<line x1="192.9" y1="417.0" x2="192.9" y2="420.7" stroke="#555" stroke-width="1"/>
<text x="192.9" y="432.1" font-size="8.7" fill="#262626" color="#262626" text-anchor="middle" textLength="23.7" lengthAdjust="spacingAndGlyphs">−0.02</text>
<line x1="258.3" y1="417.0" x2="258.3" y2="420.7" stroke="#555" stroke-width="1"/>
<text x="258.3" y="432.1" font-size="8.7" fill="#262626" color="#262626" text-anchor="middle">0</text>
<line x1="323.6" y1="417.0" x2="323.6" y2="420.7" stroke="#555" stroke-width="1"/>
<text x="323.6" y="432.1" font-size="8.7" fill="#262626" color="#262626" text-anchor="middle" textLength="18.0" lengthAdjust="spacingAndGlyphs">0.02</text>
<text x="174.9" y="448.1" font-size="11" fill="#262626" color="#262626" text-anchor="start" font-style="italic">β</text>
<text x="184.0" y="448.4" font-size="10.8" fill="#262626" color="#262626" text-anchor="start" textLength="97.8" lengthAdjust="spacingAndGlyphs">coefficients (95% CI)</text>
<rect x="117.5" y="461.6" width="108.9" height="50.9" fill="#f3f8f4"/>
<rect x="226.4" y="461.6" width="106.9" height="50.9" fill="#fef8f0"/>
<rect x="117.5" y="512.5" width="108.9" height="50.9" fill="#fef8f0"/>
<rect x="226.4" y="512.5" width="106.9" height="50.9" fill="#f3f8f4"/>
<line x1="128.0" y1="476.2" x2="205.1" y2="476.2" stroke="#8dbb98" stroke-width="3.0"/>
<rect x="127.7" y="473.9" width="3.0" height="4.6" fill="#8dbb98"/>
<rect x="202.4" y="473.9" width="3.0" height="4.6" fill="#8dbb98"/>
<rect x="165.9" y="474.3" width="2.0" height="3.8" fill="#8dbb98"/>
<line x1="188.1" y1="500.3" x2="209.9" y2="500.3" stroke="#8dbb98" stroke-width="3.0"/>
<rect x="187.8" y="498.0" width="3.0" height="4.6" fill="#8dbb98"/>
<rect x="207.2" y="498.0" width="3.0" height="4.6" fill="#8dbb98"/>
<rect x="198.0" y="498.4" width="2.0" height="3.8" fill="#8dbb98"/>
<line x1="236.6" y1="524.5" x2="278.3" y2="524.5" stroke="#8dbb98" stroke-width="3.0"/>
<rect x="236.3" y="522.2" width="3.0" height="4.6" fill="#8dbb98"/>
<rect x="275.6" y="522.2" width="3.0" height="4.6" fill="#8dbb98"/>
<rect x="256.5" y="522.6" width="2.0" height="3.8" fill="#8dbb98"/>
<line x1="230.6" y1="549.1" x2="303.1" y2="549.1" stroke="#8dbb98" stroke-width="3.0"/>
<rect x="230.3" y="546.8" width="3.0" height="4.6" fill="#8dbb98"/>
<rect x="300.4" y="546.8" width="3.0" height="4.6" fill="#8dbb98"/>
<rect x="265.8" y="547.2" width="2.0" height="3.8" fill="#8dbb98"/>
<text x="164.9" y="558.8" font-size="8.4" fill="#4a4a4a" color="#4a4a4a" text-anchor="start" textLength="31.7" lengthAdjust="spacingAndGlyphs">Reduced</text>
<text x="261.9" y="558.8" font-size="8.4" fill="#4a4a4a" color="#4a4a4a" text-anchor="start" textLength="31.0" lengthAdjust="spacingAndGlyphs">Elevated</text>
<line x1="226.4" y1="461.6" x2="226.4" y2="563.4" stroke="#f47a6c" stroke-width="1.6" stroke-dasharray="5.8 6.1"/>
<rect x="117.5" y="461.6" width="215.8" height="101.8" fill="none" stroke="#858585" stroke-width="1.1"/>
<line x1="113.9" y1="476.2" x2="117.5" y2="476.2" stroke="#444" stroke-width="1"/>
<text x="110.3" y="479.1" font-size="9.0" fill="#262626" color="#262626" text-anchor="end" textLength="99.6" lengthAdjust="spacingAndGlyphs">Trunk fat percentage (%)</text>
<line x1="113.9" y1="500.3" x2="117.5" y2="500.3" stroke="#444" stroke-width="1"/>
<text x="110.3" y="503.2" font-size="9.0" fill="#262626" color="#262626" text-anchor="end" textLength="109.2" lengthAdjust="spacingAndGlyphs">Android fat percentage (%)</text>
<line x1="113.9" y1="524.5" x2="117.5" y2="524.5" stroke="#444" stroke-width="1"/>
<text x="110.3" y="527.4" font-size="9.0" fill="#262626" color="#262626" text-anchor="end" textLength="106.2" lengthAdjust="spacingAndGlyphs">Gynoid fat percentage (%)</text>
<line x1="113.9" y1="549.1" x2="117.5" y2="549.1" stroke="#444" stroke-width="1"/>
<text x="110.3" y="552.0" font-size="9.0" fill="#262626" color="#262626" text-anchor="end" textLength="92.0" lengthAdjust="spacingAndGlyphs">Leg fat percentage (%)</text>
<line x1="129.6" y1="563.4" x2="129.6" y2="567.1" stroke="#555" stroke-width="1"/>
<text x="129.6" y="578.5" font-size="8.7" fill="#262626" color="#262626" text-anchor="middle" textLength="17.5" lengthAdjust="spacingAndGlyphs">−0.6</text>
<line x1="194.3" y1="563.4" x2="194.3" y2="567.1" stroke="#555" stroke-width="1"/>
<text x="194.3" y="578.5" font-size="8.7" fill="#262626" color="#262626" text-anchor="middle" textLength="17.5" lengthAdjust="spacingAndGlyphs">−0.2</text>
<line x1="258.7" y1="563.4" x2="258.7" y2="567.1" stroke="#555" stroke-width="1"/>
<text x="258.7" y="578.5" font-size="8.7" fill="#262626" color="#262626" text-anchor="middle" textLength="12.7" lengthAdjust="spacingAndGlyphs">0.2</text>
<line x1="323.3" y1="563.4" x2="323.3" y2="567.1" stroke="#555" stroke-width="1"/>
<text x="323.3" y="578.5" font-size="8.7" fill="#262626" color="#262626" text-anchor="middle" textLength="12.7" lengthAdjust="spacingAndGlyphs">0.6</text>
<text x="171.5" y="594.0" font-size="11" fill="#262626" color="#262626" text-anchor="start" font-style="italic">β</text>
<text x="181.1" y="594.4" font-size="10.8" fill="#262626" color="#262626" text-anchor="start" textLength="97.8" lengthAdjust="spacingAndGlyphs">coefficients (95% CI)</text>
<rect x="468.4" y="240.7" width="107.1" height="53.5" fill="#f3f8f4"/>
<rect x="575.5" y="240.7" width="108.0" height="53.5" fill="#fef8f0"/>
<line x1="492.6" y1="255.5" x2="648.5" y2="255.5" stroke="#575953" stroke-width="3.0"/>
<rect x="492.3" y="253.2" width="3.0" height="4.6" fill="#575953"/>
<rect x="645.8" y="253.2" width="3.0" height="4.6" fill="#575953"/>
<rect x="553.5" y="253.6" width="2.0" height="3.8" fill="#575953"/>
<line x1="485.8" y1="279.6" x2="573.7" y2="279.6" stroke="#8dbb98" stroke-width="3.0"/>
<rect x="485.5" y="277.3" width="3.0" height="4.6" fill="#8dbb98"/>
<rect x="571.0" y="277.3" width="3.0" height="4.6" fill="#8dbb98"/>
<rect x="522.8" y="277.7" width="2.0" height="3.8" fill="#8dbb98"/>
<text x="501.9" y="289.3" font-size="8.4" fill="#83a18b" color="#83a18b" text-anchor="start" textLength="61.3" lengthAdjust="spacingAndGlyphs">Protective factor</text>
<text x="608.6" y="289.3" font-size="8.4" fill="#d9ae4f" color="#d9ae4f" text-anchor="start" textLength="38.4" lengthAdjust="spacingAndGlyphs">Risk factor</text>
<line x1="575.5" y1="240.7" x2="575.5" y2="294.2" stroke="#f47a6c" stroke-width="1.6" stroke-dasharray="5.8 6.1"/>
<rect x="468.4" y="240.7" width="215.1" height="53.5" fill="none" stroke="#858585" stroke-width="1.1"/>
<line x1="464.8" y1="255.5" x2="468.4" y2="255.5" stroke="#444" stroke-width="1"/>
<text x="461.2" y="258.4" font-size="9.0" fill="#262626" color="#262626" text-anchor="end" textLength="31.2" lengthAdjust="spacingAndGlyphs">Obesity</text>
<line x1="464.8" y1="279.6" x2="468.4" y2="279.6" stroke="#444" stroke-width="1"/>
<text x="461.2" y="282.5" font-size="9.0" fill="#262626" color="#262626" text-anchor="end" textLength="61.7" lengthAdjust="spacingAndGlyphs">Central obesity</text>
<line x1="477.4" y1="294.2" x2="477.4" y2="297.9" stroke="#555" stroke-width="1"/>
<text x="477.4" y="309.3" font-size="8.7" fill="#262626" color="#262626" text-anchor="middle">0.50</text>
<line x1="526.4" y1="294.2" x2="526.4" y2="297.9" stroke="#555" stroke-width="1"/>
<text x="526.4" y="309.3" font-size="8.7" fill="#262626" color="#262626" text-anchor="middle">0.75</text>
<line x1="575.4" y1="294.2" x2="575.4" y2="297.9" stroke="#555" stroke-width="1"/>
<text x="575.4" y="309.3" font-size="8.7" fill="#262626" color="#262626" text-anchor="middle">1.00</text>
<line x1="624.4" y1="294.2" x2="624.4" y2="297.9" stroke="#555" stroke-width="1"/>
<text x="624.4" y="309.3" font-size="8.7" fill="#262626" color="#262626" text-anchor="middle">1.25</text>
<line x1="673.3" y1="294.2" x2="673.3" y2="297.9" stroke="#555" stroke-width="1"/>
<text x="673.3" y="309.3" font-size="8.7" fill="#262626" color="#262626" text-anchor="middle">1.50</text>
<text x="575.8" y="325.7" font-size="9.8" fill="#262626" color="#262626" text-anchor="middle" textLength="56.5" lengthAdjust="spacingAndGlyphs">OR (95% CI)</text>
<text x="576.0" y="233.7" font-size="10.6" fill="#262626" color="#262626" text-anchor="middle" textLength="82.4" lengthAdjust="spacingAndGlyphs">Validation cohort</text>
<rect x="468.4" y="339.0" width="139.8" height="77.8" fill="#f3f8f4"/>
<rect x="608.2" y="339.0" width="75.3" height="77.8" fill="#fef8f0"/>
<line x1="571.8" y1="353.4" x2="607.7" y2="353.4" stroke="#8dbb98" stroke-width="3.0"/>
<rect x="571.5" y="351.1" width="3.0" height="4.6" fill="#8dbb98"/>
<rect x="605.0" y="351.1" width="3.0" height="4.6" fill="#8dbb98"/>
<rect x="588.5" y="351.5" width="2.0" height="3.8" fill="#8dbb98"/>
<line x1="579.8" y1="378.2" x2="607.7" y2="378.2" stroke="#8dbb98" stroke-width="3.0"/>
<rect x="579.5" y="375.9" width="3.0" height="4.6" fill="#8dbb98"/>
<rect x="605.0" y="375.9" width="3.0" height="4.6" fill="#8dbb98"/>
<rect x="592.5" y="376.3" width="2.0" height="3.8" fill="#8dbb98"/>
<line x1="497.5" y1="402.5" x2="603.5" y2="402.5" stroke="#8dbb98" stroke-width="3.0"/>
<rect x="497.2" y="400.2" width="3.0" height="4.6" fill="#8dbb98"/>
<rect x="600.8" y="400.2" width="3.0" height="4.6" fill="#8dbb98"/>
<rect x="549.0" y="400.6" width="2.0" height="3.8" fill="#8dbb98"/>
<text x="518.8" y="412.0" font-size="8.4" fill="#83a18b" color="#83a18b" text-anchor="start" textLength="61.3" lengthAdjust="spacingAndGlyphs">Protective factor</text>
<text x="625.3" y="411.9" font-size="8.4" fill="#d9ae4f" color="#d9ae4f" text-anchor="start" textLength="38.4" lengthAdjust="spacingAndGlyphs">Risk factor</text>
<line x1="608.2" y1="339.0" x2="608.2" y2="416.8" stroke="#f47a6c" stroke-width="1.6" stroke-dasharray="5.8 6.1"/>
<rect x="468.4" y="339.0" width="215.1" height="77.8" fill="none" stroke="#858585" stroke-width="1.1"/>
<line x1="464.8" y1="353.4" x2="468.4" y2="353.4" stroke="#444" stroke-width="1"/>
<text x="461.2" y="356.3" font-size="9.0" fill="#262626" color="#262626" text-anchor="end" textLength="69.3" lengthAdjust="spacingAndGlyphs">Waist-to-hip ratio</text>
<line x1="464.8" y1="378.0" x2="468.4" y2="378.0" stroke="#444" stroke-width="1"/>
<text x="461.2" y="380.9" font-size="9.0" fill="#262626" color="#262626" text-anchor="end" textLength="82.5" lengthAdjust="spacingAndGlyphs">Waist-to-height ratio</text>
<line x1="464.8" y1="402.4" x2="468.4" y2="402.4" stroke="#444" stroke-width="1"/>
<text x="461.2" y="405.3" font-size="9.0" fill="#262626" color="#262626" text-anchor="end" textLength="95.0" lengthAdjust="spacingAndGlyphs">Android-to-gynoid ratio</text>
<line x1="477.4" y1="416.8" x2="477.4" y2="420.5" stroke="#555" stroke-width="1"/>
<text x="477.4" y="431.9" font-size="8.7" fill="#262626" color="#262626" text-anchor="middle" textLength="29.5" lengthAdjust="spacingAndGlyphs">−0.050</text>
<line x1="543.0" y1="416.8" x2="543.0" y2="420.5" stroke="#555" stroke-width="1"/>
<text x="543.0" y="431.9" font-size="8.7" fill="#262626" color="#262626" text-anchor="middle" textLength="29.5" lengthAdjust="spacingAndGlyphs">−0.025</text>
<line x1="608.2" y1="416.8" x2="608.2" y2="420.5" stroke="#555" stroke-width="1"/>
<text x="608.2" y="431.9" font-size="8.7" fill="#262626" color="#262626" text-anchor="middle">0</text>
<line x1="673.3" y1="416.8" x2="673.3" y2="420.5" stroke="#555" stroke-width="1"/>
<text x="673.3" y="431.9" font-size="8.7" fill="#262626" color="#262626" text-anchor="middle" textLength="24.0" lengthAdjust="spacingAndGlyphs">0.025</text>
<text x="525.2" y="448.1" font-size="11" fill="#262626" color="#262626" text-anchor="start" font-style="italic">β</text>
<text x="534.3" y="448.4" font-size="10.8" fill="#262626" color="#262626" text-anchor="start" textLength="97.6" lengthAdjust="spacingAndGlyphs">coefficients (95% CI)</text>
<rect x="468.2" y="461.4" width="107.4" height="51.0" fill="#f3f8f4"/>
<rect x="575.6" y="461.4" width="107.8" height="51.0" fill="#fef8f0"/>
<rect x="468.2" y="512.4" width="107.4" height="51.0" fill="#fef8f0"/>
<rect x="575.6" y="512.4" width="107.8" height="51.0" fill="#f3f8f4"/>
<line x1="486.5" y1="476.4" x2="582.2" y2="476.4" stroke="#575953" stroke-width="3.0"/>
<rect x="486.2" y="474.1" width="3.0" height="4.6" fill="#575953"/>
<rect x="579.5" y="474.1" width="3.0" height="4.6" fill="#575953"/>
<rect x="533.7" y="474.5" width="2.0" height="3.8" fill="#575953"/>
<line x1="548.3" y1="500.4" x2="574.3" y2="500.4" stroke="#8dbb98" stroke-width="3.0"/>
<rect x="548.0" y="498.1" width="3.0" height="4.6" fill="#8dbb98"/>
<rect x="571.6" y="498.1" width="3.0" height="4.6" fill="#8dbb98"/>
<rect x="560.0" y="498.5" width="2.0" height="3.8" fill="#8dbb98"/>
<line x1="583.2" y1="524.6" x2="636.4" y2="524.6" stroke="#8dbb98" stroke-width="3.0"/>
<rect x="582.9" y="522.3" width="3.0" height="4.6" fill="#8dbb98"/>
<rect x="633.7" y="522.3" width="3.0" height="4.6" fill="#8dbb98"/>
<rect x="609.0" y="522.7" width="2.0" height="3.8" fill="#8dbb98"/>
<line x1="576.6" y1="549.3" x2="671.2" y2="549.3" stroke="#8dbb98" stroke-width="3.0"/>
<rect x="576.3" y="547.0" width="3.0" height="4.6" fill="#8dbb98"/>
<rect x="668.5" y="547.0" width="3.0" height="4.6" fill="#8dbb98"/>
<rect x="623.0" y="547.4" width="2.0" height="3.8" fill="#8dbb98"/>
<text x="507.0" y="559.1" font-size="8.4" fill="#4a4a4a" color="#4a4a4a" text-anchor="start" textLength="31.7" lengthAdjust="spacingAndGlyphs">Reduced</text>
<text x="611.8" y="559.1" font-size="8.4" fill="#4a4a4a" color="#4a4a4a" text-anchor="start" textLength="31.0" lengthAdjust="spacingAndGlyphs">Elevated</text>
<line x1="575.6" y1="461.4" x2="575.6" y2="563.4" stroke="#f47a6c" stroke-width="1.6" stroke-dasharray="5.8 6.1"/>
<rect x="468.2" y="461.4" width="215.2" height="102.0" fill="none" stroke="#858585" stroke-width="1.1"/>
<line x1="464.6" y1="476.4" x2="468.2" y2="476.4" stroke="#444" stroke-width="1"/>
<text x="461.0" y="479.3" font-size="9.0" fill="#262626" color="#262626" text-anchor="end" textLength="99.6" lengthAdjust="spacingAndGlyphs">Trunk fat percentage (%)</text>
<line x1="464.6" y1="500.4" x2="468.2" y2="500.4" stroke="#444" stroke-width="1"/>
<text x="461.0" y="503.3" font-size="9.0" fill="#262626" color="#262626" text-anchor="end" textLength="109.2" lengthAdjust="spacingAndGlyphs">Android fat percentage (%)</text>
<line x1="464.6" y1="524.6" x2="468.2" y2="524.6" stroke="#444" stroke-width="1"/>
<text x="461.0" y="527.5" font-size="9.0" fill="#262626" color="#262626" text-anchor="end" textLength="106.2" lengthAdjust="spacingAndGlyphs">Gynoid fat percentage (%)</text>
<line x1="464.6" y1="549.3" x2="468.2" y2="549.3" stroke="#444" stroke-width="1"/>
<text x="461.0" y="552.2" font-size="9.0" fill="#262626" color="#262626" text-anchor="end" textLength="92.0" lengthAdjust="spacingAndGlyphs">Leg fat percentage (%)</text>
<line x1="477.1" y1="563.4" x2="477.1" y2="567.1" stroke="#555" stroke-width="1"/>
<text x="477.1" y="578.5" font-size="8.7" fill="#262626" color="#262626" text-anchor="middle" textLength="17.5" lengthAdjust="spacingAndGlyphs">−1.6</text>
<line x1="526.7" y1="563.4" x2="526.7" y2="567.1" stroke="#555" stroke-width="1"/>
<text x="526.7" y="578.5" font-size="8.7" fill="#262626" color="#262626" text-anchor="middle" textLength="17.5" lengthAdjust="spacingAndGlyphs">−0.8</text>
<line x1="575.6" y1="563.4" x2="575.6" y2="567.1" stroke="#555" stroke-width="1"/>
<text x="575.6" y="578.5" font-size="8.7" fill="#262626" color="#262626" text-anchor="middle">0</text>
<line x1="624.3" y1="563.4" x2="624.3" y2="567.1" stroke="#555" stroke-width="1"/>
<text x="624.3" y="578.5" font-size="8.7" fill="#262626" color="#262626" text-anchor="middle" textLength="12.7" lengthAdjust="spacingAndGlyphs">0.8</text>
<line x1="673.5" y1="563.4" x2="673.5" y2="567.1" stroke="#555" stroke-width="1"/>
<text x="673.5" y="578.5" font-size="8.7" fill="#262626" color="#262626" text-anchor="middle" textLength="12.7" lengthAdjust="spacingAndGlyphs">1.6</text>
<text x="522.0" y="594.0" font-size="11" fill="#262626" color="#262626" text-anchor="start" font-style="italic">β</text>
<text x="531.1" y="594.4" font-size="10.8" fill="#262626" color="#262626" text-anchor="start" textLength="97.8" lengthAdjust="spacingAndGlyphs">coefficients (95% CI)</text>
</svg>
</body></html>
